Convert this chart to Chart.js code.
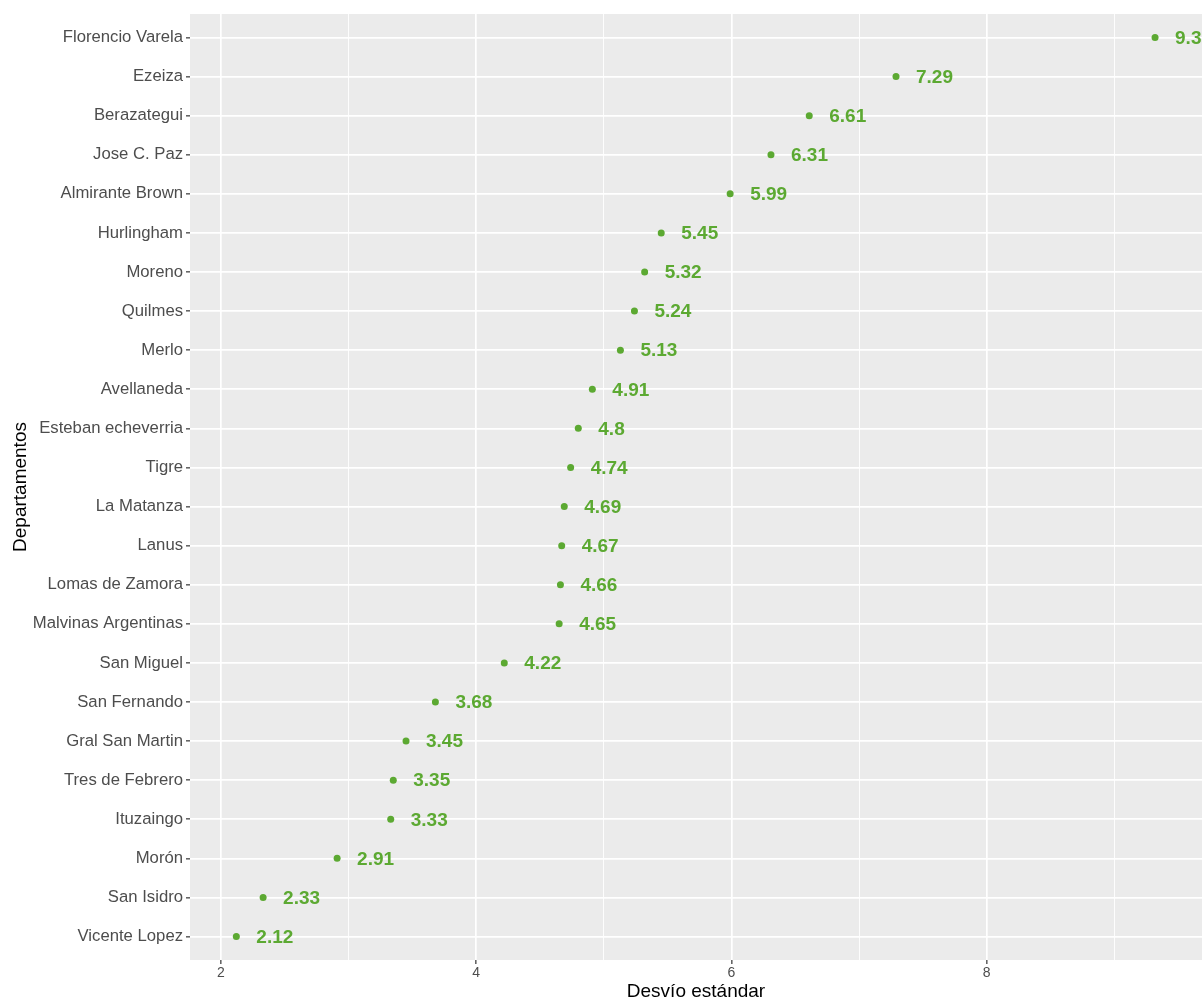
<!DOCTYPE html>
<html>
<head>
<meta charset="utf-8">
<script src="https://cdn.jsdelivr.net/npm/chart.js@4"></script>
<style>
  html, body { margin: 0; padding: 0; background: #fff; }
  #wrap { width: 1202px; height: 999px; }
</style>
</head>
<body>
<div id="wrap"><canvas id="sdChart" width="1202" height="999"></canvas></div>
<script>
// Departamentos, de arriba hacia abajo
const departamentos = [
  "Florencio Varela", "Ezeiza", "Berazategui", "Jose C. Paz", "Almirante Brown",
  "Hurlingham", "Moreno", "Quilmes", "Merlo", "Avellaneda", "Esteban echeverria",
  "Tigre", "La Matanza", "Lanus", "Lomas de Zamora", "Malvinas Argentinas",
  "San Miguel", "San Fernando", "Gral San Martin", "Tres de Febrero", "Ituzaingo",
  "Morón", "San Isidro", "Vicente Lopez"
];
const desvios = [
  9.32, 7.29, 6.61, 6.31, 5.99, 5.45, 5.32, 5.24, 5.13, 4.91, 4.8,
  4.74, 4.69, 4.67, 4.66, 4.65, 4.22, 3.68, 3.45, 3.35, 3.33, 2.91, 2.33, 2.12
];
const xTicks = [2, 3, 4, 5, 6, 7, 8, 9];
const xLabels = [2, 4, 6, 8];

const verde = "rgb(92, 169, 50)";
const fuente = "'Liberation Sans', Arial, sans-serif";

// fondo gris del panel
const panelBg = {
  id: "panelBg",
  beforeDraw(chart) {
    const a = chart.chartArea, c = chart.ctx;
    c.save();
    c.fillStyle = "#EBEBEB";
    c.fillRect(a.left, a.top, a.right - a.left, a.bottom - a.top);
    c.restore();
  }
};

// etiquetas con el valor al lado de cada punto
const valueLabels = {
  id: "valueLabels",
  afterDatasetsDraw(chart) {
    const c = chart.ctx;
    const meta = chart.getDatasetMeta(0);
    c.save();
    c.fillStyle = verde;
    c.font = "bold 19px " + fuente;
    c.textAlign = "left";
    c.textBaseline = "middle";
    meta.data.forEach((pt, i) => {
      c.fillText(String(desvios[i]), pt.x + 20, pt.y + 1);
    });
    c.restore();
  }
};

var ctx = document.getElementById("sdChart");
new Chart(ctx, {
  type: "scatter",
  data: {
    datasets: [{
      data: desvios.map((v, i) => ({ x: v, y: i })),
      backgroundColor: verde,
      borderColor: verde,
      pointRadius: 3.5,
      pointHoverRadius: 3.5,
      borderWidth: 0
    }]
  },
  options: {
    responsive: false,
    animation: false,
    layout: { autoPadding: false, padding: { top: 14, right: 0, left: 0, bottom: 0 } },
    plugins: { legend: { display: false }, tooltip: { enabled: false } },
    scales: {
      x: {
        type: "linear",
        min: 1.757,
        max: 9.688,
        afterBuildTicks: (s) => { s.ticks = xTicks.map(v => ({ value: v })); },
        afterFit: (s) => { s.height = 39; },
        border: { display: false },
        grid: {
          color: "#FFFFFF",
          lineWidth: (c) => (c.tick && xLabels.includes(c.tick.value)) ? 1.7 : 0.9,
          tickColor: (c) => (c.tick && xLabels.includes(c.tick.value)) ? "#333333" : "rgba(0,0,0,0)",
          tickLength: 4,
          tickWidth: 1.2
        },
        ticks: {
          autoSkip: false,
          maxRotation: 0,
          padding: 1,
          color: "#4D4D4D",
          font: { family: fuente, size: 14 },
          callback: (v) => xLabels.includes(v) ? String(v) : ""
        },
        title: {
          display: true,
          text: "Desvío estándar",
          color: "#000000",
          font: { family: fuente, size: 19, lineHeight: 0.75 },
          padding: { top: 0, bottom: 0 }
        }
      },
      y: {
        type: "linear",
        reverse: true,
        min: -0.6,
        max: departamentos.length - 0.4,
        afterBuildTicks: (s) => { s.ticks = departamentos.map((d, i) => ({ value: i })); },
        afterFit: (s) => { s.width = 190; },
        border: { display: false },
        grid: {
          color: "#FFFFFF",
          lineWidth: 1.7,
          tickColor: "#333333",
          tickLength: 4,
          tickWidth: 1.2
        },
        ticks: {
          autoSkip: false,
          padding: 3,
          color: "#4D4D4D",
          font: { family: fuente, size: 16.7 },
          callback: (v) => departamentos[v]
        },
        title: {
          display: true,
          text: "Departamentos",
          color: "#000000",
          font: { family: fuente, size: 19 },
          padding: { top: 9, bottom: 0 }
        }
      }
    }
  },
  plugins: [panelBg, valueLabels]
});
</script>
</body>
</html>
